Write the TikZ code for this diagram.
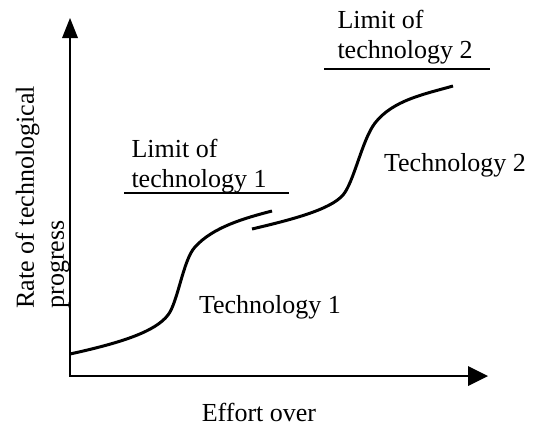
\documentclass[tikz,border=0pt]{standalone}
\usepackage{fontspec}
\setmainfont{Liberation Serif}
\tikzset{every picture/.style={line width=0.75pt}}
\tikzset{lbl/.style={inner sep=0, font=\fontsize{19.5}{22.5}\selectfont}}

\begin{document}
\begin{tikzpicture}[x=0.75pt,y=0.75pt,yscale=-1,xscale=1]
	\useasboundingbox (0,0) rectangle (538,425); %set diagram size to 538 x 425

	%Straight Lines [id:y-axis] 
	\draw [line width=1.5]   (70,376) -- (70,36) ;
	\draw [shift={(70,18)}, rotate = 90] [fill={rgb, 255:red, 0; green, 0; blue, 0 }  ][line width=0.08]  [draw opacity=0] (20,-8) -- (0,0) -- (20,8) -- cycle    ;
	%Straight Lines [id:x-axis] 
	\draw [line width=1.5]   (69.25,376) -- (470,376) ;
	\draw [shift={(488,376)}, rotate = 180] [fill={rgb, 255:red, 0; green, 0; blue, 0 }  ][line width=0.08]  [draw opacity=0] (20,-10) -- (0,0) -- (20,10) -- cycle    ;

	%Curve Lines [id:technology 1] 
	\draw [line width=2.25]   (70,354) .. controls (120,343) and (155,332) .. (168,315) .. controls (178,302) and (183,260) .. (195,247) .. controls (213,227) and (245,218) .. (272,211) ;
	%Curve Lines [id:technology 2] 
	\draw [line width=2.25]   (252,229) .. controls (290,220) and (330,210) .. (343,195) .. controls (354,182) and (362,140) .. (375,123) .. controls (393,100) and (425,94) .. (453,86) ;

	%Straight Lines [id:limit 1] 
	\draw [line width=1.5]   (124,193) -- (289,193) ;
	%Straight Lines [id:limit 2] 
	\draw [line width=1.5]   (324,69) -- (490,69) ;

	% Text Node
	\draw (131,139) node (lim1) [lbl, anchor=north west, align=left] {Limit of\\technology 1};
	% Text Node
	\draw (337,10) node (lim2) [lbl, anchor=north west, align=left] {Limit of\\technology 2};
	% Text Node
	\draw (270,313) node (tech1) [lbl, anchor=base] {Technology 1};
	% Text Node
	\draw (455,171) node (tech2) [lbl, anchor=base] {Technology 2};
	% Text Node
	\draw (259,421) node (effort) [lbl, anchor=base] {Effort over};
	% Text Node
	\draw (15,309) node (rate) [lbl, rotate=90, anchor=north west, align=left] {Rate of technological\\progress};

\end{tikzpicture}
\end{document}
